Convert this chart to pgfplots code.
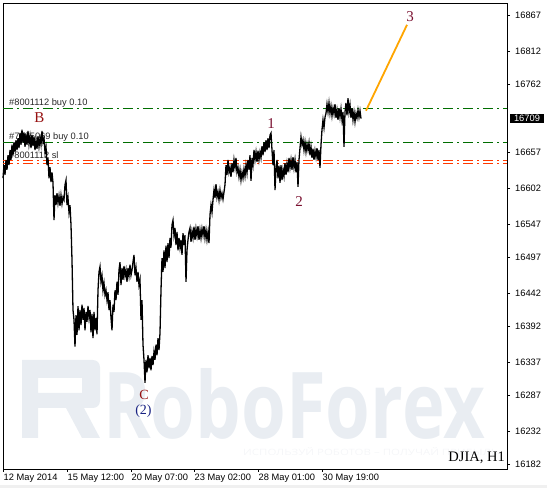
\documentclass[border=0pt]{standalone}
\usepackage{fontspec}
\setmainfont{Liberation Sans}
\newfontfamily\waveface{Liberation Serif}
\newfontfamily\markface{Open Sans}
\usepackage{graphicx}
\usepackage{pgfplots}
\pgfplotsset{compat=1.18}
\usepackage{pgfplotstable}

\definecolor{ordergreen}{RGB}{0,110,0}
\definecolor{targetorange}{RGB}{255,165,0}
\definecolor{wavered}{RGB}{150,16,16}
\definecolor{wavenum}{RGB}{122,16,48}
\definecolor{wavenavy}{RGB}{24,34,130}
\definecolor{watermark}{RGB}{233,237,242}
\definecolor{watermarklight}{RGB}{245,246,248}
\definecolor{ordertext}{RGB}{40,40,40}

% DJIA H1 price path (bar number, price), high/low swings per bar
\pgfplotstableread{
bar price
3 16618
4 16638
5 16623
6 16646
7 16631
8 16653
9 16638
10 16661
11 16646
12 16669
13 16653
14 16673
15 16658
16 16676
17 16661
18 16679
19 16664
20 16687
21 16669
22 16692
23 16672
24 16688
25 16666
26 16685
27 16669
28 16690
29 16670
30 16682
31 16664
32 16684
33 16667
34 16681
35 16661
36 16676
37 16663
38 16682
39 16666
40 16679
41 16669
42 16690
43 16673
44 16679
45 16658
46 16666
47 16638
48 16649
49 16618
50 16635
51 16612
52 16627
53 16611
54 16554
55 16592
56 16577
57 16595
58 16580
59 16591
60 16576
61 16592
62 16579
63 16589
64 16585
65 16608
66 16615
67 16577
68 16588
69 16566
70 16577
71 16547
72 16493
73 16417
74 16402
75 16361
76 16409
77 16379
78 16423
79 16386
80 16417
81 16394
82 16425
83 16402
84 16420
85 16386
86 16414
87 16399
88 16423
89 16405
90 16417
91 16383
92 16411
93 16374
94 16414
95 16386
96 16405
97 16380
98 16447
99 16475
100 16483
101 16460
102 16469
103 16447
104 16458
105 16440
106 16447
107 16432
108 16444
109 16417
110 16432
111 16405
112 16386
113 16425
114 16414
115 16447
116 16432
117 16460
118 16440
119 16478
120 16490
121 16455
122 16481
123 16463
124 16484
125 16469
126 16478
127 16460
128 16481
129 16469
130 16486
131 16470
132 16478
133 16490
134 16501
135 16470
136 16481
137 16460
138 16475
139 16455
140 16463
141 16402
142 16432
143 16364
144 16341
145 16306
146 16341
147 16322
148 16348
149 16328
150 16344
151 16325
152 16347
153 16333
154 16353
155 16341
156 16364
157 16348
158 16374
159 16356
160 16382
161 16447
162 16496
163 16475
164 16508
165 16481
166 16515
167 16490
168 16519
169 16496
170 16527
171 16512
172 16547
173 16554
174 16531
175 16542
176 16516
177 16536
178 16508
179 16527
180 16512
181 16524
182 16501
183 16534
184 16516
185 16531
186 16460
187 16508
188 16524
189 16536
190 16542
191 16521
192 16537
193 16527
194 16544
195 16524
196 16541
197 16530
198 16545
199 16524
200 16539
201 16527
202 16541
203 16531
204 16545
205 16527
206 16539
207 16524
208 16536
209 16519
210 16562
211 16577
212 16566
213 16585
214 16600
215 16588
216 16609
217 16589
218 16597
219 16585
220 16600
221 16588
222 16595
223 16586
224 16597
225 16608
226 16638
227 16623
228 16646
229 16627
230 16634
231 16620
232 16641
233 16627
234 16646
235 16634
236 16649
237 16627
238 16634
239 16620
240 16631
241 16615
242 16627
243 16618
244 16632
245 16621
246 16638
247 16626
248 16646
249 16631
250 16653
251 16614
252 16649
253 16638
254 16661
255 16646
256 16658
257 16643
258 16660
259 16646
260 16658
261 16649
262 16667
263 16653
264 16673
265 16658
266 16676
267 16661
268 16679
269 16664
270 16684
271 16687
272 16661
273 16638
274 16661
275 16600
276 16631
277 16646
278 16618
279 16637
280 16611
281 16638
282 16615
283 16631
284 16621
285 16641
286 16623
287 16640
288 16627
289 16649
290 16634
291 16646
292 16631
293 16650
294 16634
295 16646
296 16627
297 16643
298 16605
299 16646
300 16664
301 16681
302 16669
303 16676
304 16661
305 16673
306 16658
307 16670
308 16661
309 16672
310 16653
311 16666
312 16649
313 16663
314 16646
315 16660
316 16650
317 16664
318 16646
319 16661
320 16634
321 16669
322 16692
323 16707
324 16695
325 16711
326 16717
327 16731
328 16719
329 16733
330 16717
331 16728
332 16713
333 16725
334 16716
335 16731
336 16710
337 16722
338 16707
339 16725
340 16711
341 16724
342 16707
343 16719
344 16666
345 16719
346 16733
347 16714
348 16740
349 16719
350 16730
351 16710
352 16725
353 16707
354 16719
355 16704
356 16717
357 16710
358 16722
359 16711
360 16721
361 16709
}\pricedata

\begin{document}
\begin{tikzpicture}
% background branding, laid out in screen units (origin at the top-left corner)
\begin{scope}[shift={(-3pt,469pt)}, x=1pt, y=-1pt]
  \fill[watermark, even odd rule]
    (22,360) [rounded corners=7pt] -- (100,360) -- (100,408) [sharp corners] -- (84,408)
    -- (100,438) -- (82,438) -- (66,408) -- (38,408) -- (38,438) -- (22,438) -- cycle
    (38,378) rectangle (82,393);
  \node[anchor=base west, inner sep=0pt, text=watermark] at (103,438)
    {\resizebox{382pt}{70pt}{\markface\bfseries RoboForex}};
  \node[anchor=base west, inner sep=0pt, text=watermarklight] at (243,456)
    {\resizebox{255pt}{8pt}{\markface ИСПОЛЬЗУЙ РОБОТОВ – ПОЛУЧАЙ ПРИБЫЛЬ}};
  \fill[black!6] (-10,485) rectangle (560,492);
\end{scope}

\begin{axis}[
  scale only axis,
  width=504pt, height=466pt,
  xmin=3, xmax=507,
  ymin=16174.4, ymax=16885.3,
  clip=false,
  axis line style={black, line width=0.8pt},
  tick align=outside,
  major tick length=3pt,
  tick style={black, line width=0.6pt},
  xtick pos=left, ytick pos=right, yticklabel pos=right,
  xtick={3,67,131,194,258,322},
  xticklabels={12 May 2014,15 May 12:00,20 May 07:00,23 May 02:00,28 May 01:00,30 May 19:00},
  ytick={16182,16232,16287,16337,16392,16442,16497,16547,16602,16657,16762,16812,16867},
  yticklabels={16182,16232,16287,16337,16392,16442,16497,16547,16602,16657,16762,16812,16867},
  ticklabel style={font=\fontsize{9.3}{11}\selectfont, inner sep=0pt},
  xticklabel style={anchor=north west, xshift=0.5pt, yshift=-2pt},
  yticklabel style={anchor=west, xshift=5pt},
  /pgf/number format/assume math mode=true,
]
% order levels
\addplot[draw=ordergreen, line width=0.8pt, dash pattern=on 10pt off 4pt on 2pt off 4pt]
  coordinates {(3,16724) (507,16724)};
\addplot[draw=ordergreen, line width=0.8pt, dash pattern=on 10pt off 4pt on 2pt off 4pt]
  coordinates {(3,16672) (507,16672)};
% stop-loss levels
\addplot[color=orange!45!red, line width=1.3pt, solid,
  dash pattern=on 10pt off 4pt on 2pt off 4pt]
  coordinates {(3,16645) (507,16645)};
\addplot[color=orange!45!red, line width=1.3pt, solid,
  dash pattern=on 10pt off 4pt on 2pt off 4pt]
  coordinates {(3,16640) (507,16640)};

\node[anchor=west, inner sep=0pt, text=ordertext, font=\fontsize{9.3}{11}\selectfont]
  at (axis cs:9,16733) {\#8001112 buy 0.10};
\node[anchor=west, inner sep=0pt, text=ordertext, font=\fontsize{9.3}{11}\selectfont]
  at (axis cs:9,16681) {\#7895069 buy 0.10};
\node[anchor=west, inner sep=0pt, text=ordertext, font=\fontsize{9.3}{11}\selectfont]
  at (axis cs:9,16653) {\#8001112 sl};

% price
\addplot[black, line width=1.3pt] table[x=bar, y=price] {\pricedata};
% projected wave 3
\addplot[draw=targetorange, line width=1.8pt] coordinates {(366,16721) (407,16852)};

% wave marks
\node[inner sep=0pt, text=wavered, font=\waveface\fontsize{15}{15}\selectfont] at (axis cs:39.5,16710) {B};
\node[inner sep=0pt, text=wavenum, font=\waveface\fontsize{15}{15}\selectfont] at (axis cs:271,16702) {1};
\node[inner sep=0pt, text=wavenum, font=\waveface\fontsize{15}{15}\selectfont] at (axis cs:299,16582) {2};
\node[inner sep=0pt, text=wavenum, font=\waveface\fontsize{15}{15}\selectfont] at (axis cs:410,16864) {3};
\node[inner sep=0pt, text=wavered, font=\waveface\fontsize{14}{14}\selectfont] at (axis cs:144,16288) {C};
\node[inner sep=0pt, text=wavenavy, font=\waveface\fontsize{14}{14}\selectfont] at (axis cs:143.5,16263) {(2)};

\node[anchor=base east, inner sep=0pt, font=\waveface\fontsize{14.5}{15}\selectfont]
  at (axis cs:505,16186) {DJIA, H1};
\end{axis}

% current bid marker on the price scale
\node[fill=black, text=white, inner sep=0pt, minimum width=34pt, minimum height=9.5pt,
  font=\fontsize{9.3}{11}\selectfont] at (524pt,350.5pt) {16709};

\pgfresetboundingbox
\path (-3pt,-19pt) rectangle (544pt,469pt);
\end{tikzpicture}
\end{document}
